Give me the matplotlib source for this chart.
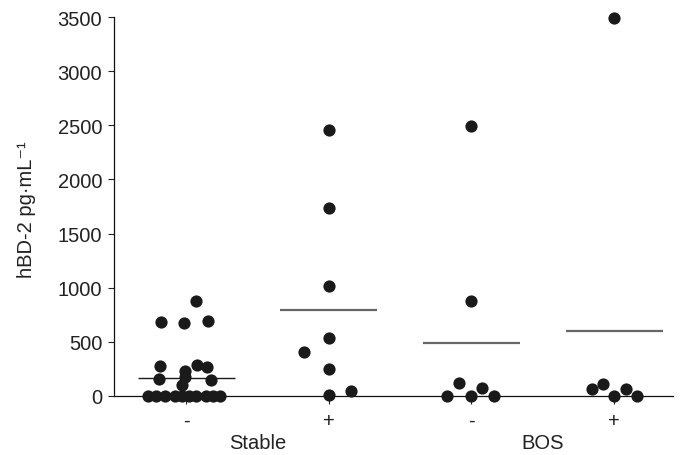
import matplotlib
matplotlib.use("Agg")
import matplotlib.pyplot as plt
import numpy as np

plt.rcParams['font.family'] = ['Liberation Sans', 'DejaVu Sans']

# ---- data ----
group_labels = ["Stable", "BOS"]
tick_labels = ["-", "+", "-", "+"]
y_ticks = [0, 500, 1000, 1500, 2000, 2500, 3000, 3500]

stable_neg = [877, 686, 673, 692, 278, 290, 270, 234, 180, 99, 160, 150,
              0, 0, 0, 0, 0, 0, 0, 0, 0, 0]
stable_neg_jitter = [0.068, -0.175, -0.012, 0.152, -0.18, 0.075, 0.15, -0.007, -0.005, -0.03, -0.19, 0.175,
                     -0.266, -0.21, -0.147, -0.077, -0.028, 0.021, 0.07, 0.14, 0.189, 0.238]

stable_pos = [2454, 1736, 1016, 536, 404, 252, 12, 43]
stable_pos_jitter = [0, 0, 0, 0, -0.173, 0, 0, 0.158]

bos_neg = [2491, 874, 117, 71, 0, 0, 0]
bos_neg_jitter = [0, 0, -0.084, 0.075, -0.168, 0, 0.161]

bos_pos = [3490, 65, 111, 0, 65, 0]
bos_pos_jitter = [0, -0.156, -0.075, 0, 0.084, 0.16]

group_means = [170, 790, 494, 603]

series = [(stable_neg, stable_neg_jitter), (stable_pos, stable_pos_jitter),
          (bos_neg, bos_neg_jitter), (bos_pos, bos_pos_jitter)]

# ---- figure ----
fig = plt.figure(figsize=(6.81, 4.56), dpi=100)
ax = fig.add_axes([114/681, 59/456, (673-114)/681, (397-18)/456])

positions = np.arange(1, 5)
dot_color = '#1a1a1a'
for pos, (vals, jit) in zip(positions, series):
    xs = pos + np.asarray(jit)
    ax.plot(xs, vals, 'o', color=dot_color, markersize=8.8, markeredgewidth=0,
            clip_on=False, zorder=5)

mean_colors = ['#1a1a1a', '#666666', '#666666', '#666666']
mean_widths = [1.0, 1.6, 1.6, 1.6]
for pos, m, c, w in zip(positions, group_means, mean_colors, mean_widths):
    ax.hlines(m, pos - 0.34, pos + 0.34, colors=c, linewidth=w, zorder=4)

ax.set_xlim(0.495, 4.413)
ax.set_ylim(0, 3500)

ax.spines['top'].set_visible(False)
ax.spines['right'].set_visible(False)
for s in ['left', 'bottom']:
    ax.spines[s].set_linewidth(0.9)
    ax.spines[s].set_color('#111111')

fs = 14.5
ax.set_yticks(y_ticks)
ax.set_yticklabels([str(v) for v in y_ticks])
ax.set_xticks(positions)
ax.set_xticklabels(tick_labels)
ax.tick_params(axis='y', direction='out', length=4.5, width=0.8, pad=4,
               labelsize=fs, colors='#222222')
ax.tick_params(axis='x', direction='out', length=5.5, width=0.8, pad=5,
               labelsize=fs, colors='#222222')

# group labels centred between their pairs
for i, g in enumerate(group_labels):
    xc = (positions[2*i] + positions[2*i+1]) / 2
    ax.text(xc, -0.122, g, transform=ax.get_xaxis_transform(), ha='center', va='center',
            fontsize=fs, color='#222222')

fig.text(26/681, 1 - 210/456, 'hBD-2 pg·mL⁻¹', rotation=90, ha='center', va='center',
         fontsize=fs, color='#222222')

fig.savefig('out.png', dpi=100)
